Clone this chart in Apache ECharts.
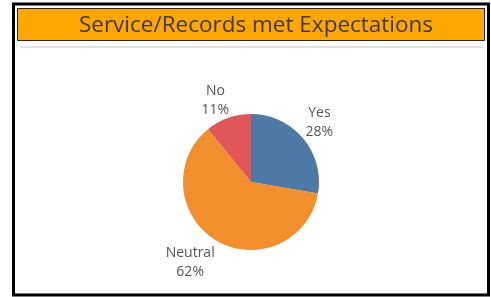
<!DOCTYPE html>
<html>
<head>
<meta charset="utf-8">
<script src="https://cdn.jsdelivr.net/npm/echarts@6/dist/echarts.min.js"></script>
<style>
html, body { margin: 0; padding: 0; background: #fff; }
#main { width: 491px; height: 297px; }
</style>
</head>
<body>
<div id="main"></div>
<script>
var categories = ['Yes', 'Neutral', 'No'];
var shares = [28, 62, 11];
var colors = ['#4e79a7', '#f28e2b', '#e15759'];
// small nudges so labels sit where Tableau put them
var labelOffsets = [[-7, -12], [6, 17], [8, -12]];

var dom = document.getElementById('main');
var myChart = echarts.init(dom);

var pieData = categories.map(function (name, i) {
    return {
        name: name,
        value: shares[i],
        itemStyle: { color: colors[i] },
        label: { offset: labelOffsets[i] }
    };
});

var option = {
    animation: false,
    title: {
        text: 'Service/Records met Expectations',
        left: 251,
        textAlign: 'center',
        top: 9,
        textStyle: {
            fontFamily: 'Open Sans',
            fontWeight: 'normal',
            fontSize: 22.5,
            color: '#3b3b3b'
        }
    },
    graphic: [
        // outer frame
        { type: 'rect', shape: { x: 13.5, y: 4, width: 475, height: 291 },
          style: { fill: 'none', stroke: '#000', lineWidth: 3 }, z: -1 },
        // title band
        { type: 'rect', shape: { x: 17.5, y: 8.5, width: 467, height: 32 },
          style: { fill: '#ffa600', stroke: '#222', lineWidth: 1 }, z: -1 },
        // divider
        { type: 'line', shape: { x1: 20, y1: 47, x2: 483, y2: 47 },
          style: { stroke: '#d9d9d9', lineWidth: 1.5 }, z: -1 }
    ],
    series: [
        {
            name: 'Expectations',
            type: 'pie',
            center: [251, 182],
            radius: 68,
            startAngle: 90,
            clockwise: true,
            data: pieData,
            label: {
                position: 'outside',
                formatter: '{t|{b}}\n{t|{c}%}',
                rich: {
                    t: {
                        align: 'center',
                        fontFamily: 'Open Sans',
                        fontSize: 14,
                        lineHeight: 19,
                        color: '#555'
                    }
                }
            },
            labelLine: { show: false, length: 6, length2: 0 }
        }
    ]
};

if (option && typeof option === "object") {
    myChart.setOption(option, true);
}
</script>
</body>
</html>
